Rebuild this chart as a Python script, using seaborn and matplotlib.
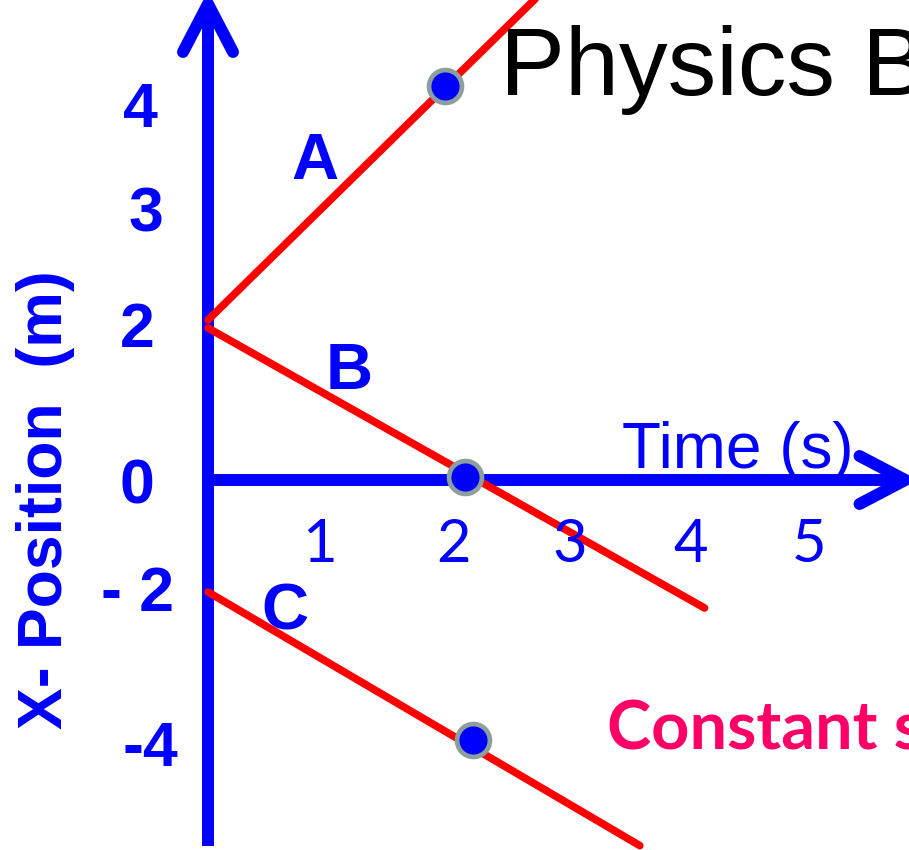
import pandas as pd
import seaborn as sns
import matplotlib.pyplot as plt

# Datos (unidades del dibujo: t -> 127 px, x -> 80 px)
linea = ['A', 'A', 'B', 'B', 'C', 'C']
t_linea = [0.0, 2.6, 0.0, 3.91, 0.0, 3.40]
x_linea = [2.0, 6.05, 1.90, -1.60, -1.40, -4.57]

t_punto = [1.87, 2.02, 2.09]
x_punto = [4.93, 0.04, -3.25]

xtick_lab = ['1', '2', '3', '4', '5']
xtick_pos = [0.88, 1.93, 2.85, 3.80, 4.73]
ytick_lab = ['4', '3', '2', '0', '- 2', '-4']
ytick_pos = [4.615, 3.315, 1.865, -0.085, -1.435, -3.37]
ytick_t = [-0.535, -0.488, -0.559, -0.559, -0.559, -0.457]

df_lineas = pd.DataFrame({'linea': linea, 't': t_linea, 'x': x_linea})
df_puntos = pd.DataFrame({'t': t_punto, 'x': x_punto})

sns.set_style("white")
plt.rcParams['font.family'] = ['Liberation Sans', 'DejaVu Sans']

AZUL = '#0000FF'
ROJO = '#FF0000'

fig = plt.figure(figsize=(9.09, 8.5), dpi=100)
ax = fig.add_axes([0, 0, 1, 1])
ax.axis('off')

# ejes con flechas
ax.plot([0, 0], [-4.58, 5.9], color=AZUL, lw=8.6, solid_capstyle='butt', zorder=2)
ax.plot([-0.197, 0, 0.197], [5.35, 5.95, 5.35], color=AZUL, lw=8.6,
        solid_capstyle='round', solid_joinstyle='miter', zorder=2)
ax.plot([0, 5.45], [0, 0], color=AZUL, lw=8.6, solid_capstyle='butt', zorder=2)
ax.plot([5.13, 5.49, 5.13], [0.30, 0.0, -0.30], color=AZUL, lw=8.6,
        solid_capstyle='round', solid_joinstyle='miter', zorder=2)

# lineas A, B, C
sns.lineplot(data=df_lineas, x='t', y='x', hue='linea', units='linea',
             estimator=None, sort=False, palette=[ROJO] * 3, lw=5.5,
             legend=False, ax=ax, zorder=3)

# puntos
sns.scatterplot(data=df_puntos, x='t', y='x', s=560, color=AZUL,
                edgecolor='#8C9E9E', linewidth=3.4, ax=ax, zorder=4)

ax.set_xlim(-208 / 127, 701 / 127)
ax.set_ylim(-370 / 80, 480 / 80)

# etiquetas de lineas
for lab, tt, xx in zip(['A', 'B', 'C'], [0.843, 1.11, 0.606], [3.975, 1.35, -1.65]):
    ax.text(tt, xx, lab, color=AZUL, fontsize=47, fontweight='bold',
            ha='center', va='center')

# etiquetas de ticks
for lab, pos in zip(xtick_lab, xtick_pos):
    ax.text(pos, -0.81, lab, color=AZUL, fontsize=43, family=['Lato', 'DejaVu Sans'],
            ha='center', va='center')
for lab, pos, tt in zip(ytick_lab, ytick_pos, ytick_t):
    ax.text(tt, pos, lab, color=AZUL, fontsize=45, fontweight='bold',
            ha='center', va='center')

ax.text(3.26, 0.15, 'Time (s)', color=AZUL, fontsize=46, ha='left', va='baseline')
ax.text(-1.283, -0.25, 'X- Position  (m)', color=AZUL, fontsize=45,
        fontweight='bold', rotation=90, ha='center', va='center')
ax.text(2.30, 4.81, 'Physics B', color='black', fontsize=70, ha='left',
        va='baseline')
ax.text(3.14, -3.375, 'Constant s', color='#FF0066', fontsize=48,
        fontweight='bold', family=['Lato', 'DejaVu Sans'], ha='left', va='baseline')

fig.savefig('out.png', dpi=100)
